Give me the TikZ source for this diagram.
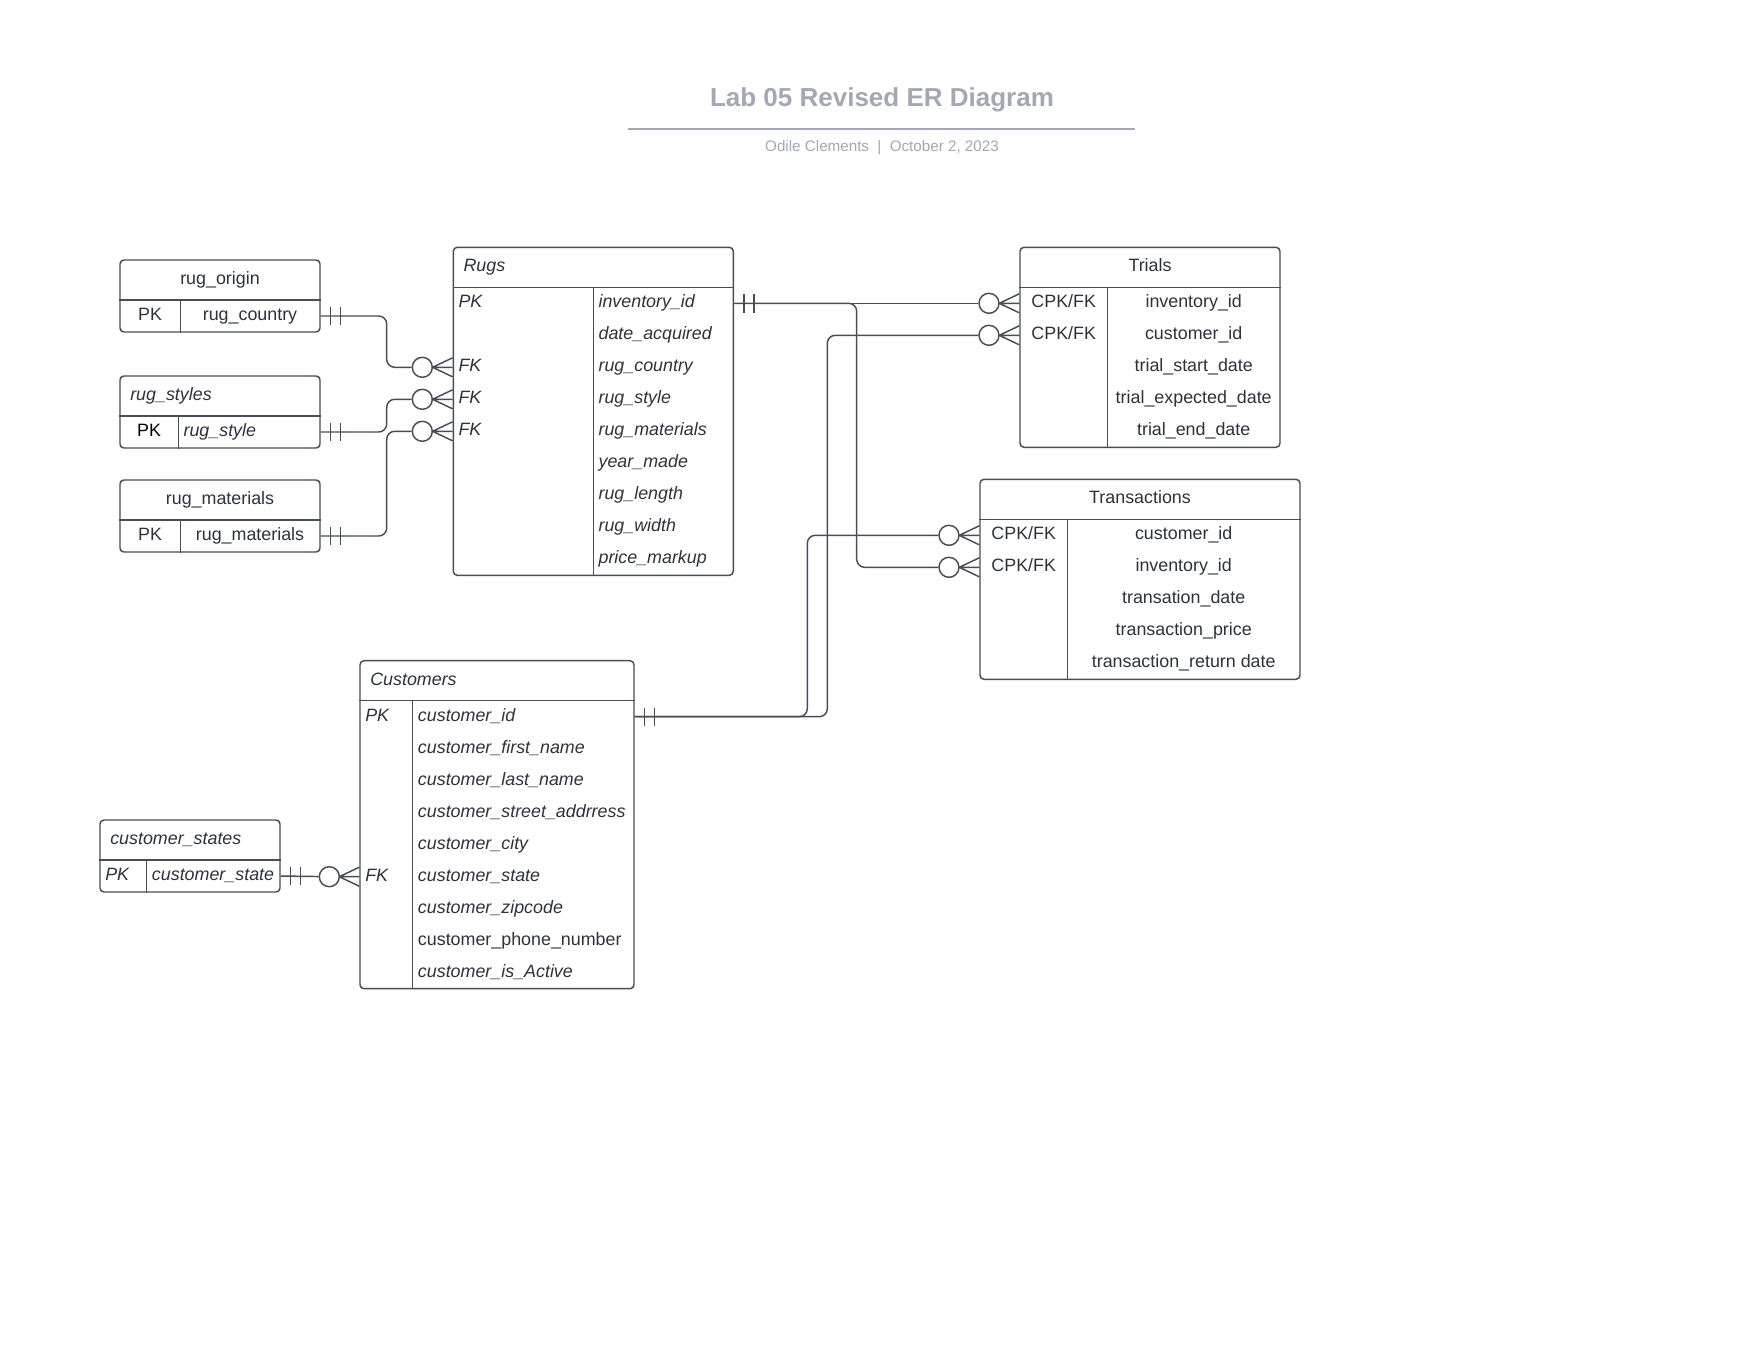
\documentclass[tikz,border=0pt]{standalone}
\usepackage{fontspec}
\setmainfont{Liberation Sans}
\usetikzlibrary{fit}
\definecolor{erline}{RGB}{72,77,87}
\definecolor{ertext}{RGB}{45,50,60}
\definecolor{hdgray}{RGB}{163,168,179}
\tikzset{
  tbl/.style={draw=erline, line width=1.1pt, rounded corners=3pt, inner sep=0pt},
  sep/.style={draw=erline, line width=1.1pt},
  conn/.style={draw=erline, line width=1.1pt, rounded corners=6pt},
  fld/.style={text=ertext, inner sep=0pt, text height=10pt, text depth=3.4pt, font=\fontsize{13.4}{16}\selectfont},
  fldit/.style={fld, font=\fontsize{13.4}{16}\selectfont\itshape},
  zcirc/.style={circle, draw=erline, fill=white, line width=1.1pt, minimum size=15pt, inner sep=0pt},
  crowfoot/.pic={\draw[sep] (-20,0) -- (0,-9.5) (-20,0) -- (0,0) (-20,0) -- (0,9.5);},
  onebars/.pic={\draw[sep] (10,-9.2) -- (10,9.2) (20,-9.2) -- (20,9.2);}
}

\begin{document}
\begin{tikzpicture}[x=0.75pt,y=-0.75pt]
        \fill[white] (0,0) rectangle (1760,1360);
        \useasboundingbox (0,0) rectangle (1760,1360);

        \node[anchor=base, text=hdgray, font=\fontsize{19.5}{23}\selectfont\bfseries] (title) at (882,106.8) {Lab 05 Revised ER Diagram};
        \draw[hdgray, line width=1.1pt] (628,129) -- (1135,129);
        \node[anchor=base, text=hdgray, font=\fontsize{11.4}{14}\selectfont] (subtitle) at (882,151) {Odile Clements\hspace{0.55em}|\hspace{0.55em}October 2, 2023};

        \node[tbl, fit={(120,260) (320,332)}] (rorigin) {};
        \draw[sep] (rorigin.west |- 0,300) -- (rorigin.east |- 0,300);
        \draw[sep] (180.3,300) -- (180.3,0 |- rorigin.south);
        \node[fld] (ro-h) at (220,280) {rug\_origin};
        \node[fld] (ro-k) at (150,316) {PK};
        \node[fld] (ro-f) at (250,316) {rug\_country};

        \node[tbl, fit={(120,376) (320,448)}] (rstyles) {};
        \draw[sep] (rstyles.west |- 0,416) -- (rstyles.east |- 0,416);
        \draw[sep] (178.3,416) -- (178.3,0 |- rstyles.south);
        \node[fldit, anchor=west] (rs-h) at (130,396) {rug\_styles};
        \node[fld, text=black] (rs-k) at (149,432) {PK};
        \node[fldit, anchor=west] (rs-f) at (183.3,432) {rug\_style};

        \node[tbl, fit={(120,480) (320,552)}] (rmat) {};
        \draw[sep] (rmat.west |- 0,520) -- (rmat.east |- 0,520);
        \draw[sep] (180.3,520) -- (180.3,0 |- rmat.south);
        \node[fld] (rm-h) at (220,500) {rug\_materials};
        \node[fld] (rm-k) at (150,536) {PK};
        \node[fld] (rm-f) at (250,536) {rug\_materials};

        \node[tbl, fit={(453.3,247.3) (733.3,575.3)}] (rugs) {};
        \draw[sep] (rugs.west |- 0,287.3) -- (rugs.east |- 0,287.3);
        \draw[sep] (593.3,287.3) -- (593.3,0 |- rugs.south);
        \node[fldit, anchor=west] (rg-h) at (463.3,267.3) {Rugs};
        \node[fldit, anchor=west] (rg-k1) at (458.3,303.3) {PK};
        \node[fldit, anchor=west] (rg-k3) at (458.3,367.3) {FK};
        \node[fldit, anchor=west] (rg-k4) at (458.3,399.3) {FK};
        \node[fldit, anchor=west] (rg-k5) at (458.3,431.3) {FK};
        \node[fldit, anchor=west] (rg-f1) at (598.3,303.3) {inventory\_id};
        \node[fldit, anchor=west] (rg-f2) at (598.3,335.3) {date\_acquired};
        \node[fldit, anchor=west] (rg-f3) at (598.3,367.3) {rug\_country};
        \node[fldit, anchor=west] (rg-f4) at (598.3,399.3) {rug\_style};
        \node[fldit, anchor=west] (rg-f5) at (598.3,431.3) {rug\_materials};
        \node[fldit, anchor=west] (rg-f6) at (598.3,463.3) {year\_made};
        \node[fldit, anchor=west] (rg-f7) at (598.3,495.3) {rug\_length};
        \node[fldit, anchor=west] (rg-f8) at (598.3,527.3) {rug\_width};
        \node[fldit, anchor=west] (rg-f9) at (598.3,559.3) {price\_markup};

        \node[tbl, fit={(1020,247.3) (1280,447.3)}] (trials) {};
        \draw[sep] (trials.west |- 0,287.3) -- (trials.east |- 0,287.3);
        \draw[sep] (1107.3,287.3) -- (1107.3,0 |- trials.south);
        \node[fld] (tr-h) at (1150,267.3) {Trials};
        \node[fld] (tr-k1) at (1063.7,303.3) {CPK/FK};
        \node[fld] (tr-k2) at (1063.7,335.3) {CPK/FK};
        \node[fld] (tr-f1) at (1193.7,303.3) {inventory\_id};
        \node[fld] (tr-f2) at (1193.7,335.3) {customer\_id};
        \node[fld] (tr-f3) at (1193.7,367.3) {trial\_start\_date};
        \node[fld] (tr-f4) at (1193.7,399.3) {trial\_expected\_date};
        \node[fld] (tr-f5) at (1193.7,431.3) {trial\_end\_date};

        \node[tbl, fit={(980,479.3) (1300,679.3)}] (trans) {};
        \draw[sep] (trans.west |- 0,519.3) -- (trans.east |- 0,519.3);
        \draw[sep] (1067.3,519.3) -- (1067.3,0 |- trans.south);
        \node[fld] (tx-h) at (1140,499.3) {Transactions};
        \node[fld] (tx-k1) at (1023.7,535.3) {CPK/FK};
        \node[fld] (tx-k2) at (1023.7,567.3) {CPK/FK};
        \node[fld] (tx-f1) at (1183.7,535.3) {customer\_id};
        \node[fld] (tx-f2) at (1183.7,567.3) {inventory\_id};
        \node[fld] (tx-f3) at (1183.7,599.3) {transation\_date};
        \node[fld] (tx-f4) at (1183.7,631.3) {transaction\_price};
        \node[fld] (tx-f5) at (1183.7,663.3) {transaction\_return date};

        \node[tbl, fit={(360,660.7) (634,988.7)}] (cust) {};
        \draw[sep] (cust.west |- 0,700.7) -- (cust.east |- 0,700.7);
        \draw[sep] (412.3,700.7) -- (412.3,0 |- cust.south);
        \node[fldit, anchor=west] (cu-h) at (370,680.7) {Customers};
        \node[fldit, anchor=west] (cu-k1) at (365,716.7) {PK};
        \node[fldit, anchor=west] (cu-k6) at (365,876.7) {FK};
        \node[fldit, anchor=west] (cu-f1) at (417.7,716.7) {customer\_id};
        \node[fldit, anchor=west] (cu-f2) at (417.7,748.7) {customer\_first\_name};
        \node[fldit, anchor=west] (cu-f3) at (417.7,780.7) {customer\_last\_name};
        \node[fldit, anchor=west] (cu-f4) at (417.7,812.7) {customer\_street\_addrress};
        \node[fldit, anchor=west] (cu-f5) at (417.7,844.7) {customer\_city};
        \node[fldit, anchor=west] (cu-f6) at (417.7,876.7) {customer\_state};
        \node[fldit, anchor=west] (cu-f7) at (417.7,908.7) {customer\_zipcode};
        \node[fld, anchor=west] (cu-f8) at (417.7,940.7) {customer\_phone\_number};
        \node[fldit, anchor=west] (cu-f9) at (417.7,972.7) {customer\_is\_Active};

        \node[tbl, fit={(100,820) (280,892)}] (cstates) {};
        \draw[sep] (cstates.west |- 0,860) -- (cstates.east |- 0,860);
        \draw[sep] (146.3,860) -- (146.3,0 |- cstates.south);
        \node[fldit, anchor=west] (cs-h) at (110,840) {customer\_states};
        \node[fldit, anchor=west] (cs-k) at (105,876) {PK};
        \node[fldit, anchor=west] (cs-f) at (151.7,876) {customer\_state};

        \node[zcirc] (c-rc) at (422.3,0 |- rg-f3) {};
        \node[zcirc] (c-rs) at (422.3,0 |- rg-f4) {};
        \node[zcirc] (c-rm) at (422.3,0 |- rg-f5) {};
        \node[zcirc] (c-ti) at (989,0 |- tr-f1) {};
        \node[zcirc] (c-tc) at (989,0 |- tr-f2) {};
        \node[zcirc] (c-xc) at (949,0 |- tx-f1) {};
        \node[zcirc] (c-xi) at (949,0 |- tx-f2) {};
        \node[zcirc] (c-cs) at (329.3,0 |- cu-f6) {};

        \draw[conn] (rorigin.east |- ro-f) -| (386.7,0 |- c-rc) -- (c-rc);
        \draw[conn] (rstyles.east |- rs-f) -| (386.7,0 |- c-rs) -- (c-rs);
        \draw[conn] (rmat.east |- rm-f) -| (386.7,0 |- c-rm) -- (c-rm);
        \draw[conn] (rugs.east |- rg-f1) -- (c-ti);
        \draw[conn] (rugs.east |- rg-f1) -| (856.7,0 |- c-xi) -- (c-xi);
        \draw[conn] (cust.east |- cu-f1) -| (807.3,0 |- c-xc) -- (c-xc);
        \draw[conn] (cust.east |- cu-f1) -| (827.3,0 |- c-tc) -- (c-tc);
        \draw[conn] (cstates.east |- cs-f) -- (c-cs);

        \pic at (rorigin.east |- ro-f) {onebars};
        \pic at (rstyles.east |- rs-f) {onebars};
        \pic at (rmat.east |- rm-f) {onebars};
        \pic at (rugs.east |- rg-f1) {onebars};
        \pic at (cust.east |- cu-f1) {onebars};
        \pic at (cstates.east |- cs-f) {onebars};

        \pic at (rugs.west |- c-rc) {crowfoot};
        \pic at (rugs.west |- c-rs) {crowfoot};
        \pic at (rugs.west |- c-rm) {crowfoot};
        \pic at (trials.west |- c-ti) {crowfoot};
        \pic at (trials.west |- c-tc) {crowfoot};
        \pic at (trans.west |- c-xc) {crowfoot};
        \pic at (trans.west |- c-xi) {crowfoot};
        \pic at (cust.west |- c-cs) {crowfoot};
\end{tikzpicture}
\end{document}
